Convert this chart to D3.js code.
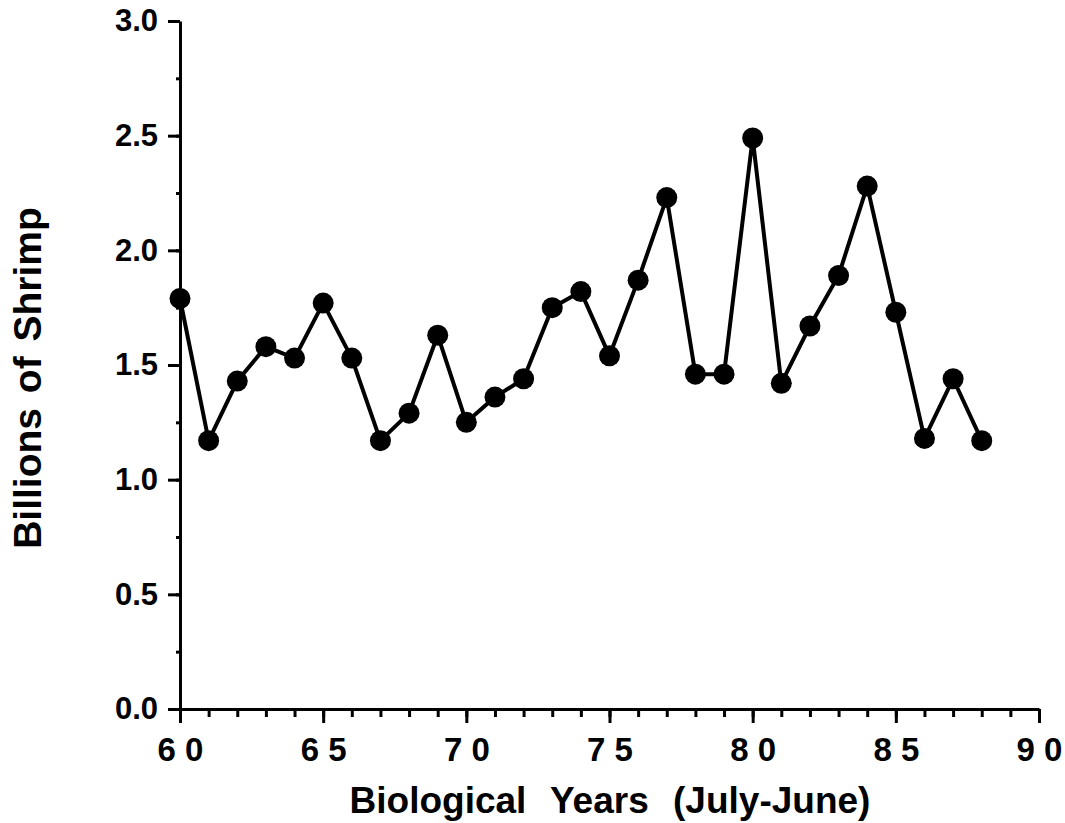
<!DOCTYPE html>
<html>
<head>
<meta charset="utf-8">
<script src="https://cdn.jsdelivr.net/npm/d3@7"></script>
<style>
    body { margin: 0; background: #fff; }
    .axis path, .axis line { stroke: #000; stroke-width: 3; }
    .axis text { font-family: "Liberation Sans", Arial, sans-serif; font-weight: bold; fill: #000; }
</style>
</head>
<body>
<div id="chart"></div>
<script>
// biological years (July-June) and catch in billions of shrimp
const years = [60, 61, 62, 63, 64, 65, 66, 67, 68, 69, 70, 71, 72, 73, 74,
               75, 76, 77, 78, 79, 80, 81, 82, 83, 84, 85, 86, 87, 88];
const shrimp = [1.79, 1.17, 1.43, 1.58, 1.53, 1.77, 1.53, 1.17, 1.29, 1.63, 1.25, 1.36, 1.44, 1.75, 1.82,
                1.54, 1.87, 2.23, 1.46, 1.46, 2.49, 1.42, 1.67, 1.89, 2.28, 1.73, 1.18, 1.44, 1.17];
const xMajorTicks = [60, 65, 70, 75, 80, 85, 90];
const xMinorTicks = d3.range(60, 91);
const yMajorTicks = [0, 0.5, 1.0, 1.5, 2.0, 2.5, 3.0];
const yMinorTicks = d3.range(0, 3.01, 0.25);

const W = 1065, H = 823;
const margin = {top: 21, right: 26, bottom: 114, left: 180};
const width = W - margin.left - margin.right,
      height = H - margin.top - margin.bottom;

const svg = d3.select("#chart")
    .append("svg")
        .attr("width", W)
        .attr("height", H)
    .append("g")
        .attr("transform", "translate(" + margin.left + "," + margin.top + ")");

const x = d3.scaleLinear().domain([60, 90]).range([0, width]);
const y = d3.scaleLinear().domain([0, 3]).range([height, 0]);

// minor ticks first, no labels
svg.append("g")
    .attr("class", "axis")
    .attr("transform", "translate(0," + height + ")")
    .call(d3.axisBottom(x).tickValues(xMinorTicks).tickSize(8).tickFormat(""))
    .call(g => g.select(".domain").remove());

svg.append("g")
    .attr("class", "axis")
    .call(d3.axisLeft(y).tickValues(yMinorTicks).tickSize(4).tickFormat(""))
    .call(g => g.select(".domain").remove());

// major x axis
svg.append("g")
    .attr("class", "axis")
    .attr("transform", "translate(0," + height + ")")
    .call(d3.axisBottom(x)
        .tickValues(xMajorTicks)
        .tickSize(14)
        .tickSizeOuter(0)
        .tickPadding(15)
        .tickFormat(d => String(d).split("").join(" ")))
    .call(g => g.selectAll("text").style("font-size", "33px"));

// major y axis
svg.append("g")
    .attr("class", "axis")
    .call(d3.axisLeft(y)
        .tickValues(yMajorTicks)
        .tickSize(12)
        .tickSizeOuter(0)
        .tickPadding(10)
        .tickFormat(d3.format(".1f")))
    .call(g => g.selectAll("text").style("font-size", "31px"));

// axis titles
svg.append("text")
    .attr("x", 610 - margin.left)
    .attr("y", 813 - margin.top)
    .attr("text-anchor", "middle")
    .style("font-family", "'Liberation Sans', Arial, sans-serif")
    .style("font-weight", "bold")
    .style("font-size", "37px")
    .style("word-spacing", "14px")
    .text("Biological Years (July-June)");

svg.append("text")
    .attr("transform", "translate(" + (41 - margin.left) + "," + (378 - margin.top) + ") rotate(-90)")
    .attr("text-anchor", "middle")
    .style("font-family", "'Liberation Sans', Arial, sans-serif")
    .style("font-weight", "bold")
    .style("font-size", "39px")
    .style("word-spacing", "4px")
    .text("Billions of Shrimp");

// the series
const data = years.map((yr, i) => ({year: yr, value: shrimp[i]}));

svg.append("path")
    .datum(data)
    .attr("fill", "none")
    .attr("stroke", "#000")
    .attr("stroke-width", 4)
    .attr("stroke-linejoin", "round")
    .attr("d", d3.line()
        .x(function(d) { return x(d.year) })
        .y(function(d) { return y(d.value) })
    );

svg.selectAll("circle")
    .data(data)
    .enter()
    .append("circle")
        .attr("cx", d => x(d.year))
        .attr("cy", d => y(d.value))
        .attr("r", 10.5)
        .attr("fill", "#000");
</script>
</body>
</html>
